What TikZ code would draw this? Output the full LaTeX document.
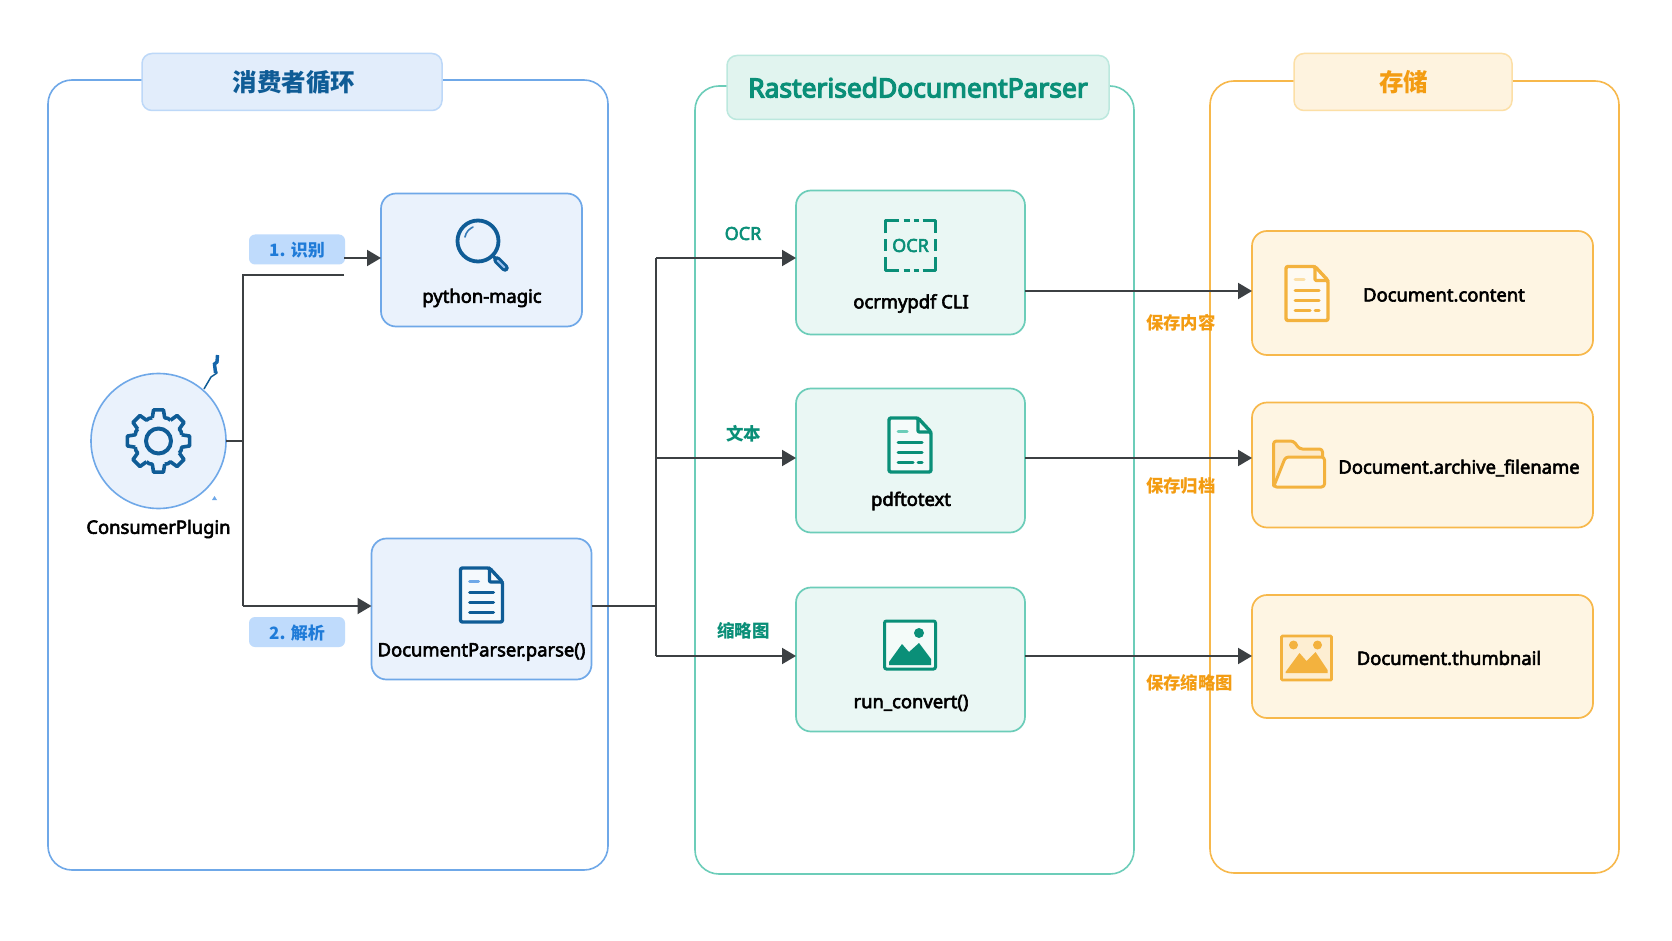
\documentclass[tikz,border=0pt]{standalone}
\usepackage{fontspec}
\setmainfont{Noto Sans}
\newfontfamily\cjk{Noto Sans CJK SC}
\newfontfamily\lat[FakeBold=3.2]{Noto Sans}
\newfontfamily\latt[FakeBold=4.6]{Noto Sans}
\usetikzlibrary{arrows.meta}
\definecolor{bline}{HTML}{6FA8E8}
\definecolor{bfill}{HTML}{EAF2FC}
\definecolor{btfill}{HTML}{E2EDFB}
\definecolor{btline}{HTML}{BDD8F8}
\definecolor{btext}{HTML}{0F5C96}
\definecolor{pillf}{HTML}{BFDBFC}
\definecolor{pillt}{HTML}{1F7BD8}
\definecolor{tline}{HTML}{6CCDB9}
\definecolor{tfill}{HTML}{EAF7F4}
\definecolor{ttfill}{HTML}{E1F4EF}
\definecolor{ttline}{HTML}{BCE8DE}
\definecolor{ttext}{HTML}{0A8F78}
\definecolor{oline}{HTML}{F7B84B}
\definecolor{ofill}{HTML}{FEF5E3}
\definecolor{otfill}{HTML}{FEF3DF}
\definecolor{otline}{HTML}{FCDFA6}
\definecolor{otext}{HTML}{F39C12}
\definecolor{oicon}{HTML}{F3B23E}
\definecolor{conn}{HTML}{3C4043}
\tikzset{
  base/.style={rectangle,inner sep=0pt,outer sep=0pt},
  panelbox/.style={base,rounded corners=24pt,line width=1.6pt,fill=white},
  titlebox/.style={base,rounded corners=10pt,line width=1.5pt,font=\bfseries\cjk\fontsize{24.5}{28}\selectfont},
  itembox/.style={base,rounded corners=15pt,line width=1.7pt},
  pb/.style={panelbox,draw=bline},
  pt/.style={panelbox,draw=tline},
  po/.style={panelbox,draw=oline},
  tb/.style={titlebox,draw=btline,fill=btfill,text=btext},
  tt/.style={titlebox,draw=ttline,fill=ttfill,text=ttext},
  to/.style={titlebox,draw=otline,fill=otfill,text=otext},
  ib/.style={itembox,draw=bline,fill=bfill},
  it/.style={itembox,draw=tline,fill=tfill},
  io/.style={itembox,draw=oline,fill=ofill},
  lbl/.style={base,font=\lat\fontsize{18.4}{22}\selectfont,text=black},
  pill/.style={base,rounded corners=6pt,fill=pillf,text=pillt,minimum width=96pt,minimum height=30pt,font=\bfseries\cjk\fontsize{17}{20}\selectfont},
  tlab/.style={base,text=ttext,font=\bfseries\cjk\fontsize{17.5}{20}\selectfont},
  olab/.style={base,text=otext,anchor=west,font=\bfseries\cjk\fontsize{17.4}{20}\selectfont},
  conline/.style={draw=conn,line width=2pt},
  arr/.style={conline,-{Triangle[length=14pt,width=16pt]}},
  ic/.style={line width=3pt,line join=round,line cap=round,fill=none},
}
\newcommand{\docicon}[4]{% x y colour light
\begin{scope}[shift={(#1,#2)}]
\draw[ic,draw=#3,rounded corners=2pt,line width=3.4pt,fill=white,fill opacity=.55] (-21,-27) -- (8,-27) -- (21,-13) -- (21,27) -- (-21,27) -- cycle;
\draw[ic,draw=#3,rounded corners=1pt,line width=3.2pt] (8,-27) -- (8,-13) -- (21,-13);
\draw[ic,draw=#4,line width=3pt] (-12,-14) -- (-3,-14);
\draw[ic,draw=#3,line width=3pt] (-12,-3) -- (12,-3);
\draw[ic,draw=#3,line width=3pt] (-12,7) -- (12,7);
}
\newcommand{\docend}{\end{scope}}
\begin{document}
\begin{tikzpicture}[x=1pt,y=-1pt]
\useasboundingbox (0,0) rectangle (1672,941);
\fill[white] (0,0) rectangle (1672,941);

% panels
\node[pb,minimum width=560pt,minimum height=790pt] (panelL) at (328,475) {};
\node[pt,minimum width=439pt,minimum height=788pt] (panelM) at (914.5,480) {};
\node[po,minimum width=409pt,minimum height=792pt] (panelR) at (1414.5,477) {};
\node[tb,minimum width=300pt,minimum height=57pt] (titleL) at (292,82) {\hspace{4pt}消费者循环};
\node[tt,minimum width=382pt,minimum height=64pt] (titleM) at (918,87.5) {\latt\fontsize{26.4}{30}\selectfont RasterisedDocumentParser};
\node[to,minimum width=218pt,minimum height=57pt] (titleR) at (1403,82) {\hspace{1pt}存储};

% items
\node[ib,minimum width=201pt,minimum height=133pt] (magic) at (481.5,260) {};
\node[ib,minimum width=220pt,minimum height=141pt] (parser) at (481.5,609) {};
\node[base,circle,draw=bline,fill=bfill,line width=1.6pt,minimum size=135pt] (consumer) at (158.5,441) {};
\node[it,minimum width=229pt,minimum height=144pt] (ocr) at (910.5,262.5) {};
\node[it,minimum width=229pt,minimum height=144pt] (text) at (910.5,460.5) {};
\node[it,minimum width=229pt,minimum height=144pt] (thumb) at (910.5,659.5) {};
\node[io,minimum width=341pt,minimum height=124pt] (content) at (1422.5,293) {};
\node[io,minimum width=341pt,minimum height=125pt] (archive) at (1422.5,465) {};
\node[io,minimum width=341pt,minimum height=123pt] (thumbnail) at (1422.5,656.5) {};

% labels
\node[lbl] (lconsumer) at (158.5,529) {ConsumerPlugin};
\node[lbl] (lmagic) at (482,298) {python-magic};
\node[lbl] (lparser) at (481.5,652) {DocumentParser.parse()};
\node[lbl] (locr) at (911,303.5) {ocrmypdf CLI};
\node[lbl] (ltext) at (911,501) {pdftotext};
\node[lbl] (lthumb) at (911,703) {run\_convert()};
\node[lbl] (lcontent) at (1444,295) {Document.content};
\node[lbl] (larchive) at (1459,468) {Document.archive\_filename};
\node[lbl] (lthumbnail) at (1449,658) {Document.thumbnail};

% pills and labels
\node[pill] (p1) at (297,249.5) {\raisebox{-7.5pt}[0pt][0pt]{1. 识别}};
\node[pill] (p2) at (297,632) {\raisebox{-7pt}[0pt][0pt]{2. 解析}};
\node[tlab] (eocr) at (743,233.5) {\lat\fontsize{18}{20}\selectfont OCR};
\node[tlab] (etext) at (743.5,433.5) {文本};
\node[tlab] (ethumb) at (743.5,631) {缩略图};
\node[olab] (scontent) at (1146,323) {保存内容};
\node[olab] (sarchive) at (1146,486) {保存归档};
\node[olab] (sthumb) at (1146,683) {保存缩略图};

% connectors
\coordinate (j1) at (243,441);
\coordinate (k1) at (344,275);
\coordinate (y1) at (344,258);
\coordinate (yp) at (243,606);
\coordinate (yo) at (656,258);
\coordinate (yt) at (656,458);
\coordinate (b3) at (656,656);
\coordinate (bus) at (656,606);
\draw[conline] (consumer.east) -- (j1);
\draw[conline] (k1) -| (j1);
\draw[conline] (j1) -- (yp);
\draw[arr] (yp) -- (yp -| parser.west);
\draw[arr] (y1) -- (y1 -| magic.west);
\draw[conline] (parser.east |- bus) -- (bus);
\draw[conline] (yo) -- (b3);
\draw[arr] (yo) -- (yo -| ocr.west);
\draw[arr] (yt) -- (yt -| text.west);
\draw[arr] (b3) -- (b3 -| thumb.west);
\coordinate (s1) at (1025,291);
\draw[arr] (s1) -- (s1 -| content.west);
\coordinate (s2) at (1025,458);
\draw[arr] (s2) -- (s2 -| archive.west);
\coordinate (s3) at (1025,656);
\draw[arr] (s3) -- (s3 -| thumbnail.west);

% gear icon
\begin{scope}[shift={(158.5,441)}]
\foreach \a in {0,45,...,315}{
  \draw[ic,draw=btext,line width=3.6pt,line cap=butt] (\a-15:24) -- (\a-9:31.5) -- (\a+9:31.5) -- (\a+15:24) -- (\a+22.5:24.5) -- (\a+30:24);
}
\draw[ic,draw=btext,line width=4pt] (0,0) circle[radius=12.5];
\end{scope}
% stray squiggle
\draw[draw=btext,line width=1.5pt,line join=round] (204,389) -- (211,377) -- (217,373) -- (215,366);
\draw[draw=btext!70!pillt,line width=3.4pt,line join=miter] (215.5,373) -- (214.5,364) -- (217,362) -- (217.5,355);
\fill[bline] (214.5,496) -- (217,500) -- (212,500) -- cycle;

% magnifier
\begin{scope}[shift={(478,241)}]
\draw[ic,draw=btext,line width=3.8pt] (0,0) circle[radius=20.5];
\draw[draw=btext!60!bline,line width=1.6pt,line cap=round] (-13,-4) .. controls (-12,-9) and (-9,-12) .. (-5,-14);
\draw[draw=btext,line width=3.5pt,line cap=round] (15,15) -- (19,19);
\draw[draw=btext,line width=7.5pt,line cap=round] (19,19) -- (27,27);
\draw[draw=bline!70!white,line width=1.8pt,line cap=round] (19.5,19.5) -- (26.5,26.5);
\end{scope}

% document icons
\docicon{481.5}{595}{btext}{bline}
\draw[ic,draw=btext,line width=3pt] (-12,17) -- (12,17);
\docend
\docicon{910}{445}{ttext}{tline}
\draw[ic,draw=ttext,line width=3pt] (-12,17) -- (3,17) (8,17) -- (12,17);
\docend
\docicon{1307}{293.5}{oicon}{otline}
\draw[ic,draw=oicon,line width=3pt] (-12,17) -- (3,17) (8,17) -- (12,17);
\docend

% OCR icon
\begin{scope}[shift={(910.5,245.5)}]
\draw[ic,draw=ttext,line width=3.8pt,line cap=butt] (-25,-12) -- (-25,-25) -- (-12,-25);
\draw[ic,draw=ttext,line width=3.8pt,line cap=butt] (12,-25) -- (25,-25) -- (25,-12);
\draw[ic,draw=ttext,line width=3.8pt,line cap=butt] (-25,12) -- (-25,25) -- (-12,25);
\draw[ic,draw=ttext,line width=3.8pt,line cap=butt] (12,25) -- (25,25) -- (25,12);
\draw[draw=ttext,line width=2.2pt] (-7,-25) -- (-1,-25) (3,-25) -- (8,-25) (-7,25) -- (-1,25) (3,25) -- (8,25) (-25,-6) -- (-25,6) (25,-6) -- (25,6);
\node[base,text=ttext,font=\lat\fontsize{18}{20}\selectfont] (iocr) at (0,0) {OCR};
\end{scope}

% teal image icon
\begin{scope}[shift={(910,645)}]
\draw[draw=ttext,line width=3pt,rounded corners=2pt,fill=white,fill opacity=.5] (-25.5,-24) rectangle (25.5,24);
\fill[ttext] (9,-12) circle[radius=5];
\fill[ttext] (-21,20) -- (-21,17) -- (-8,-1) -- (-1,7) -- (9,-2) -- (21,14) -- (21,20) -- cycle;
\end{scope}

% folder icon
\begin{scope}[shift={(1298.5,464)}]
\draw[ic,draw=oicon,fill=otext!12!ofill,rounded corners=3pt] (-25,22) -- (-25,-23) -- (-5,-23) -- (1,-15) -- (24,-15) -- (24,-7);
\draw[ic,draw=oicon,fill=ofill,rounded corners=3pt] (-25,23) -- (-13,-7) -- (26,-7) -- (26,23) -- cycle;
\end{scope}

% orange image icon
\begin{scope}[shift={(1306.5,658)}]
\draw[draw=oicon,line width=2.8pt,rounded corners=1pt,fill=otext!8!ofill] (-25,-22) rectangle (25,22);
\fill[oicon] (-13,-13) circle[radius=4.5];
\fill[oicon] (11,-13) circle[radius=4.5];
\fill[oicon] (-21,15) -- (-21,14) -- (-7,-5) -- (0,3) -- (9,-6) -- (21,12) -- (21,15) -- cycle;
\end{scope}
\end{tikzpicture}
\end{document}
